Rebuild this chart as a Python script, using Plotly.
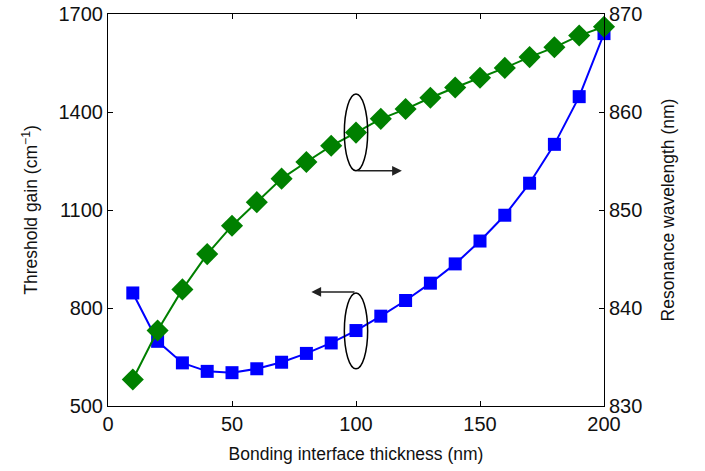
import plotly.graph_objects as go

thickness = [10, 20, 30, 40, 50, 60, 70, 80, 90, 100, 110, 120, 130, 140, 150, 160, 170, 180, 190, 200]
threshold_gain = [846, 698, 632, 606, 602, 614, 634, 661, 693, 731, 775, 823, 876, 935, 1005, 1084, 1182, 1301, 1447, 1640]
resonance_wl = [832.7, 837.7, 841.9, 845.5, 848.4, 850.8, 853.2, 854.9, 856.55, 857.9, 859.3, 860.3, 861.45, 862.5, 863.5, 864.5, 865.6, 866.6, 867.8, 868.7]

x_ticks = [0, 50, 100, 150, 200]
y1_ticks = [500, 800, 1100, 1400, 1700]
y2_ticks = [830, 840, 850, 860, 870]

FONT = "Liberation Sans, Arial, sans-serif"

fig = go.Figure()
fig.add_trace(go.Scatter(
    x=thickness, y=threshold_gain, mode="lines+markers",
    line=dict(color="#0000FF", width=2),
    marker=dict(symbol="square", size=13, color="#0000FF"),
    yaxis="y", showlegend=False, cliponaxis=False))
fig.add_trace(go.Scatter(
    x=thickness, y=resonance_wl, mode="lines+markers",
    line=dict(color="#008000", width=2),
    marker=dict(symbol="diamond", size=17, color="#008000"),
    yaxis="y2", showlegend=False, cliponaxis=False))

axis_common = dict(showline=True, linecolor="black", linewidth=1, ticks="inside",
                   ticklen=5, tickcolor="black", showgrid=False, zeroline=False,
                   automargin=False, ticklabeloverflow="allow",
                   tickfont=dict(family=FONT, size=20, color="#111111"))

fig.update_layout(
    width=705, height=471,
    margin=dict(l=108, r=101, t=14, b=65),
    plot_bgcolor="white", paper_bgcolor="white",
    font=dict(family=FONT, size=17, color="#111111"),
    xaxis=dict(range=[0, 200], tickvals=x_ticks, mirror="ticks",
               title=dict(text="Bonding interface thickness (nm)", standoff=13,
                          font=dict(family=FONT, size=17.5)),
               **axis_common),
    yaxis=dict(range=[500, 1700], tickvals=y1_ticks,
               title=dict(text="Threshold gain (cm<sup>−1</sup>)", standoff=16,
                          font=dict(family=FONT, size=17.5)),
               **axis_common),
    yaxis2=dict(range=[830, 870], tickvals=y2_ticks, overlaying="y", side="right",
                title=dict(text="Resonance wavelength (nm)", standoff=20,
                           font=dict(family=FONT, size=17.5)),
                **axis_common),
)

# Ellipses indicating which axis each curve belongs to
fig.add_shape(type="circle", xref="x", yref="y", x0=95.3, x1=104.7, y0=1220, y1=1455,
              line=dict(color="black", width=1.5), layer="above")
fig.add_shape(type="circle", xref="x", yref="y", x0=95.3, x1=104.7, y0=614, y1=846,
              line=dict(color="black", width=1.5), layer="above")

# Arrows
fig.add_annotation(x=118.5, y=1220, ax=100, ay=1220, xref="x", yref="y", axref="x", ayref="y",
                   text="", showarrow=True, arrowhead=2, arrowsize=1.3, arrowwidth=1.5,
                   arrowcolor="#222222")
fig.add_annotation(x=82, y=849, ax=100, ay=849, xref="x", yref="y", axref="x", ayref="y",
                   text="", showarrow=True, arrowhead=2, arrowsize=1.3, arrowwidth=1.5,
                   arrowcolor="#222222")

fig.write_html("out.html", config={"displayModeBar": False},
               post_script="document.body.style.margin='0px';")
